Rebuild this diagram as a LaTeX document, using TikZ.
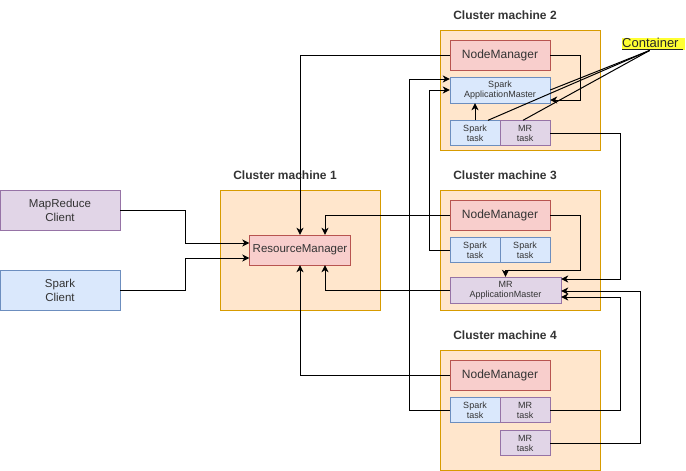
\documentclass[tikz,border=0pt]{standalone}
\usepackage{fontspec}
\setmainfont{Liberation Sans}
\usepackage{tikz}
\usetikzlibrary{arrows.meta}

\definecolor{orangefill}{HTML}{FFE6CC}
\definecolor{orangeline}{HTML}{D79B00}
\definecolor{redfill}{HTML}{F8CECC}
\definecolor{redline}{HTML}{B85450}
\definecolor{bluefill}{HTML}{DAE8FC}
\definecolor{blueline}{HTML}{6C8EBF}
\definecolor{purplefill}{HTML}{E1D5E7}
\definecolor{purpleline}{HTML}{9673A6}
\definecolor{hilite}{HTML}{FFFF33}
\definecolor{txt}{HTML}{333333}

\begin{document}
\begin{tikzpicture}[x=1pt,y=-1pt,
    every node/.style={inner sep=0pt,text=txt,align=center},
    machine/.style={draw=orangeline,fill=orangefill,minimum width=160pt,minimum height=120pt},
    title/.style={font=\fontsize{12}{14}\selectfont\bfseries},
    manager/.style={draw=redline,fill=redfill,minimum width=100pt,minimum height=30pt,font=\fontsize{12}{14}\selectfont},
    client/.style={minimum width=120pt,minimum height=40pt,font=\fontsize{11.5}{14}\selectfont},
    master/.style={minimum height=26pt,font=\fontsize{9}{10}\selectfont},
    task/.style={minimum width=50pt,minimum height=25pt,font=\fontsize{9}{10}\selectfont},
    spark/.style={draw=blueline,fill=bluefill},
    mr/.style={draw=purpleline,fill=purplefill},
    arr/.style={-{Stealth[length=7pt,width=7pt,inset=2pt]},line width=1pt}]
  \useasboundingbox (0,0) rectangle (686,471);

  % clients
  \node[client,mr]    (mrc) at (60,210) {MapReduce\\Client};
  \node[client,spark] (spc) at (60,290) {Spark\\Client};

  % cluster machine 1
  \node[machine] (cm1) at (300,250) {};
  \node[title]   (cm1t) at (285,175) {Cluster machine 1};
  \node[manager,minimum width=101pt,font=\fontsize{11.5}{14}\selectfont] (rm) at (300,250) {ResourceManager};

  % cluster machine 2
  \node[machine] (cm2) at (520,90) {};
  \node[title]   (cm2t) at (505,15) {Cluster machine 2};
  \node[manager] (nm2) at (500,55) {NodeManager};
  \node[master,spark,minimum width=100pt] (am2) at (500,90) {Spark\\ApplicationMaster};
  \node[task,spark] (st2) at (475,133) {Spark\\task};
  \node[task,mr]    (mt2) at (525,133) {MR\\task};

  % cluster machine 3
  \node[machine] (cm3) at (520,250) {};
  \node[title]   (cm3t) at (505,175) {Cluster machine 3};
  \node[manager] (nm3) at (500,215) {NodeManager};
  \node[task,spark] (st3a) at (475,250) {Spark\\task};
  \node[task,spark] (st3b) at (525,250) {Spark\\task};
  \node[master,mr,minimum width=111pt] (am3) at (505.5,290) {MR\\ApplicationMaster};

  % cluster machine 4
  \node[machine] (cm4) at (520,410) {};
  \node[title]   (cm4t) at (505,335) {Cluster machine 4};
  \node[manager] (nm4) at (500,375) {NodeManager};
  \node[task,spark] (st4)  at (475,410) {Spark\\task};
  \node[task,mr]    (mt4a) at (525,410) {MR\\task};
  \node[task,mr]    (mt4b) at (525,443) {MR\\task};

  \node[fill=hilite,anchor=west,align=left,text width=63pt,minimum height=12.5pt,text=black!85,font=\fontsize{13}{14}\selectfont] (ctr) at (622,44) {\underline{Container\ }};

  % clients to resource manager
  \draw[arr] (mrc.east) -- ++(65,0) |- ([yshift=7pt]rm.west);
  \draw[arr] (spc.east) -- ++(65,0) |- ([yshift=-8pt]rm.west);

  % node managers and masters to resource manager
  \draw[arr] (nm2.west) -| (rm.north);
  \draw[arr] (nm3.west) -| ([xshift=25pt]rm.north);
  \draw[arr] (nm4.west) -| (rm.south);
  \draw[arr] (am3.west) -| ([xshift=25pt]rm.south);

  % spark application master
  \draw[arr] (nm2.east) -- ++(30,0) |- ([yshift=-10pt]am2.east);
  \draw[arr] (st2.north) -- (st2.north |- am2.south);
  \draw[arr] (st3a.west) -- ++(-20,0) |- (am2.west);
  \draw[arr] (st4.west) -- ++(-40,0) |- ([yshift=11pt]am2.west);

  % mr application master
  \draw[arr] (nm3.east) -- ++(30,0) -- ++(0,55) -| (am3.north);
  \draw[arr] (mt2.east) -- ++(70,0) |- ([yshift=11pt]am3.east);
  \draw[arr] (mt4a.east) -- ++(70,0) |- ([yshift=-7pt]am3.east);
  \draw[arr] (mt4b.east) -- ++(90,0) |- ([yshift=-1pt]am3.east);

  % containers
  \coordinate (ctrfoot) at ([xshift=-4pt]ctr.south);
  \draw[line width=1pt] (ctrfoot) -- ([xshift=13pt]st2.north);
  \draw[line width=1pt] (ctrfoot) -- (am2.east);
  \draw[line width=1pt] (ctrfoot) -- ([xshift=-2pt]mt2.north);
\end{tikzpicture}
\end{document}
